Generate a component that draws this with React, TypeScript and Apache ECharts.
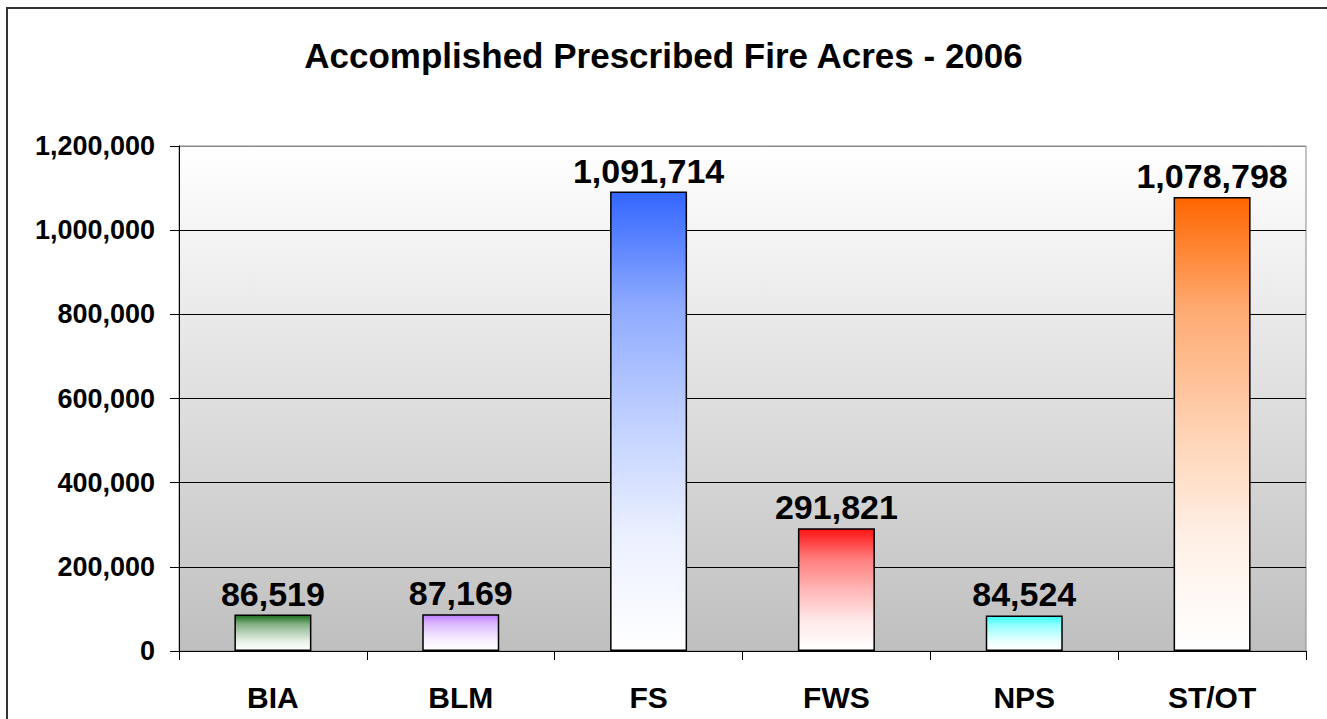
import React, { useEffect, useRef } from "react";
import * as echarts from "echarts";

const categories = ["BIA", "BLM", "FS", "FWS", "NPS", "ST/OT"];
const acres = [86519, 87169, 1091714, 291821, 84524, 1078798];
const barTopColors = ["#1c6e1c", "#c080ff", "#3366ff", "#ff1414", "#33ffff", "#ff6600"];
const titleText = "Accomplished Prescribed Fire Acres - 2006";
const yMax = 1200000;
const yStep = 200000;

// gradient shape (offset along bar, fraction faded to white)
const gradOffsets = [0, 0.25, 0.5, 0.75, 1];
const gradWhiteness = [0, 0.45, 0.69, 0.9, 1];

const fmt = (v: number) => Math.round(v).toLocaleString("en-US");
const FONT = "Arial, 'Liberation Sans', sans-serif";

function mixWhite(hex: string, t: number) {
  const n = parseInt(hex.slice(1), 16);
  const r = (n >> 16) & 255, g = (n >> 8) & 255, b = n & 255;
  const m = (c: number) => Math.round(c + (255 - c) * t);
  return `rgb(${m(r)},${m(g)},${m(b)})`;
}

export default function App() {
  const ref = useRef<HTMLDivElement>(null);
  useEffect(() => {
    document.body.style.overflow = "hidden";
    const chart = echarts.init(ref.current!, null, { renderer: "svg" });
    const splitColors = Array.from({ length: yMax / yStep + 1 }, (_, i) =>
      i === yMax / yStep ? "#8a8a8a" : "#000000"
    );
    chart.setOption({
      animation: false,
      backgroundColor: "#ffffff",
      title: {
        text: titleText,
        left: "center",
        top: 33,
        textStyle: { fontFamily: FONT, fontSize: 35, fontWeight: "bold", color: "#000" },
      },
      graphic: [
        {
          type: "rect",
          silent: true,
          shape: { x: 7, y: 8, width: 1500, height: 900 },
          style: { fill: "none", stroke: "#333333", lineWidth: 2 },
          z: 100,
        },
      ],
      grid: {
        left: 179,
        right: 21,
        top: 146,
        bottom: 68,
        show: true,
        borderColor: "#8a8a8a",
        borderWidth: 1,
        backgroundColor: {
          type: "linear",
          x: 0,
          y: 0,
          x2: 0,
          y2: 1,
          colorStops: [
            { offset: 0, color: "#ffffff" },
            { offset: 1, color: "#bfbfbf" },
          ],
        },
      },
      xAxis: {
        type: "category",
        data: categories,
        axisLine: { show: true, lineStyle: { color: "#000", width: 1 } },
        axisTick: { show: true, length: 9, alignWithLabel: false, lineStyle: { color: "#000" } },
        axisLabel: {
          fontFamily: FONT,
          fontSize: 30,
          fontWeight: "bold",
          color: "#000",
          margin: 31,
        },
        splitLine: { show: false },
      },
      yAxis: {
        type: "value",
        min: 0,
        max: yMax,
        interval: yStep,
        axisLine: { show: true, lineStyle: { color: "#000", width: 1 } },
        axisTick: { show: true, length: 9, lineStyle: { color: "#000" } },
        axisLabel: {
          fontFamily: FONT,
          fontSize: 27,
          fontWeight: "bold",
          color: "#000",
          margin: 24,
          formatter: (v: number) => fmt(v),
        },
        splitLine: { show: true, lineStyle: { color: splitColors, width: 1 } },
      },
      series: [
        {
          type: "bar",
          barWidth: 77,
          data: acres.map((v, i) => ({
            value: v,
            itemStyle: {
              color: {
                type: "linear",
                x: 0,
                y: 0,
                x2: 0,
                y2: 1,
                colorStops: gradOffsets.map((o, k) => ({
                  offset: o,
                  color: mixWhite(barTopColors[i], gradWhiteness[k]),
                })),
              },
              borderColor: "#000",
              borderWidth: 1.5,
            },
          })),
          label: {
            show: true,
            position: "top",
            distance: 4,
            fontFamily: FONT,
            fontSize: 34,
            fontWeight: "bold",
            color: "#000",
            formatter: (p: any) => fmt(p.value),
          },
        },
      ],
    });
    return () => chart.dispose();
  }, []);
  return (
    <div
      ref={ref}
      style={{ position: "absolute", left: 0, top: 0, width: 1327, height: 719 }}
    />
  );
}
